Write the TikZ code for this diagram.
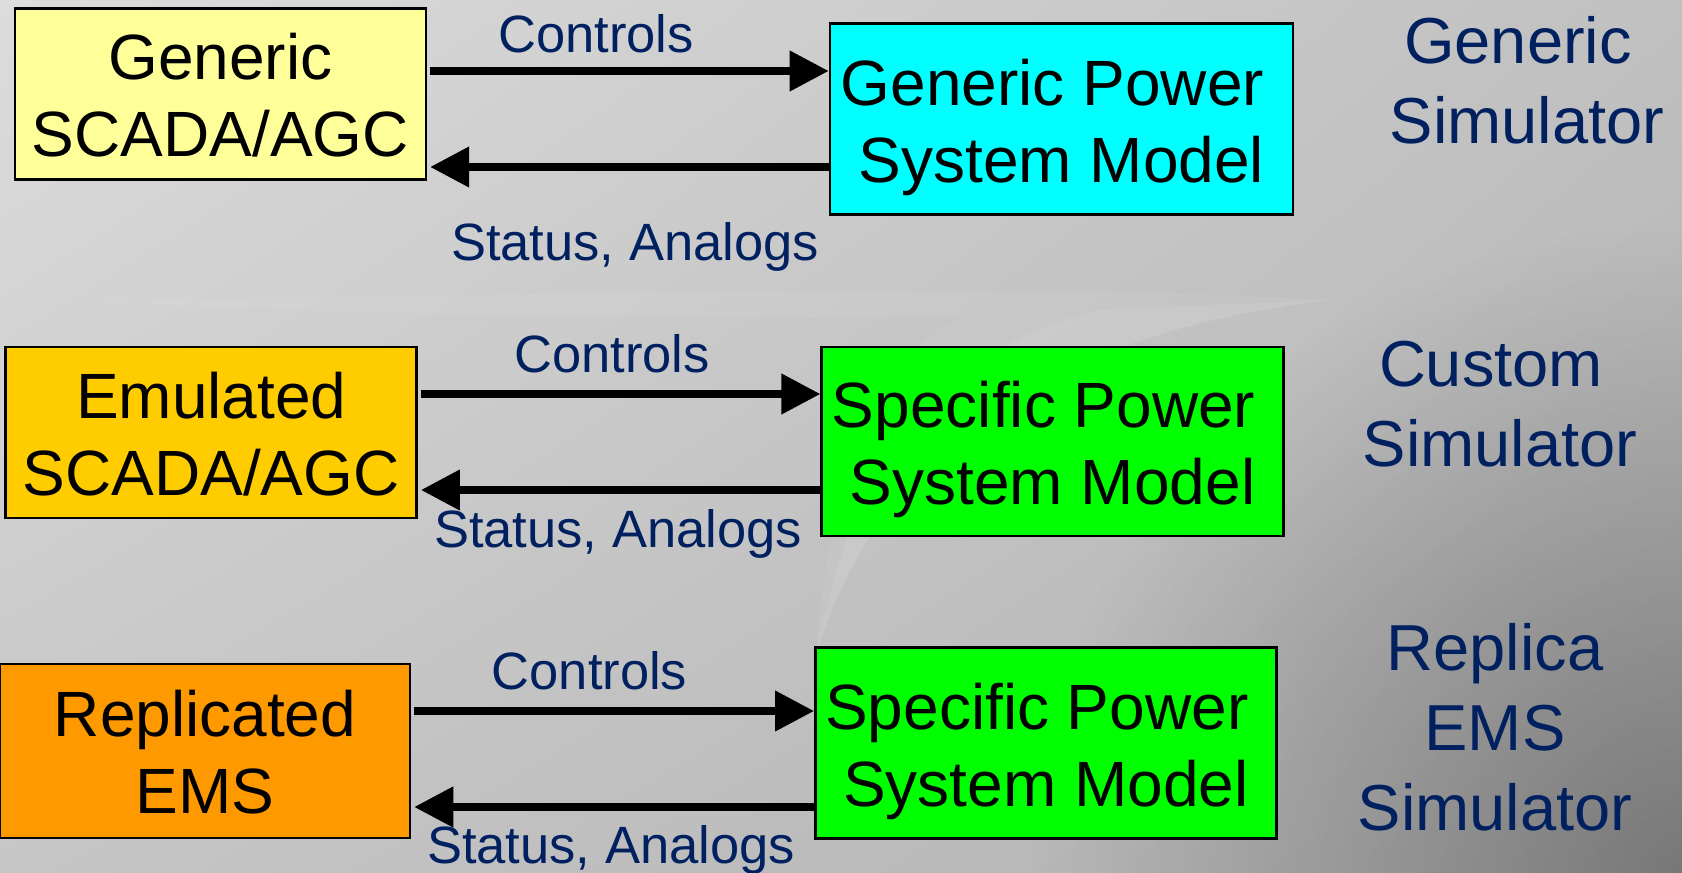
\documentclass[tikz,border=0pt]{standalone}
\usepackage{fontspec}
\setmainfont{Liberation Sans}
\usetikzlibrary{arrows.meta,fadings,shadings}

\definecolor{navy}{RGB}{0,32,96}
\definecolor{byel}{RGB}{255,255,153}
\definecolor{bcyan}{RGB}{0,255,255}
\definecolor{bgold}{RGB}{255,204,0}
\definecolor{borange}{RGB}{255,153,0}
\definecolor{bgreen}{RGB}{0,255,0}
\definecolor{bgTL}{RGB}{220,220,220}
\definecolor{bgTR}{RGB}{192,192,192}
\definecolor{bgBL}{RGB}{198,198,198}
\definecolor{bgBR}{RGB}{176,176,176}

\tikzfading[name=vign, inner color=transparent!68, outer color=transparent!100]

\newcommand{\twolines}[2]{\rule{0pt}{49pt}#1\\\smash{#2}}

\begin{document}
\begin{tikzpicture}[x=1pt,y=-1pt,
  blk/.style={draw=black, line width=2.5pt, inner sep=0pt, align=center,
              font=\fontsize{64}{77}\selectfont},
  arr/.style={line width=7.5pt, -{Triangle[length=39pt,width=39pt]}},
  lbl/.style={text=navy, font=\fontsize{52.5}{63}\selectfont, anchor=base, inner sep=0pt},
  side/.style={text=navy, font=\fontsize{65}{80}\selectfont, align=center,
               anchor=north, inner sep=0pt}]

\useasboundingbox (0,0) rectangle (1682,873);
\clip (0,0) rectangle (1682,873);

% background
\shade[upper left=bgTL, upper right=bgTR, lower left=bgBL, lower right=bgBR]
  (0,0) rectangle (1682,873);
\fill[black, path fading=vign] (1682,873) circle (650);
% faint light swoosh
\fill[white, opacity=0.06]
  (100,300) .. controls (600,292) and (1100,285) .. (1330,300)
  .. controls (1080,330) and (880,430) .. (815,660)
  .. controls (830,480) and (870,360) .. (960,318)
  .. controls (700,318) and (350,318) .. (100,300) -- cycle;
\fill[white, opacity=0.08]
  (1330,300) .. controls (1080,330) and (880,430) .. (815,660)
  .. controls (850,470) and (930,350) .. (1100,310) -- cycle;

% boxes
\node[blk, fill=byel, minimum width=411pt, minimum height=171pt] (g1) at (220.4,93.9)
  {\twolines{Generic}{SCADA/AGC}};
\node[blk, fill=bcyan, minimum width=463pt, minimum height=191pt] (m1) at (1061.4,119)
  {\twolines{Generic Power\kern18pt}{System Model}};

\node[blk, fill=bgold, minimum width=411pt, minimum height=171pt] (e2) at (211.2,432.3)
  {\twolines{Emulated}{SCADA/AGC}};
\node[blk, fill=bgreen, minimum width=462pt, minimum height=189pt] (m2) at (1052.6,441.3)
  {\twolines{Specific Power\kern18pt}{System Model}};

\node[blk, fill=borange, minimum width=410pt, minimum height=174pt] (r3) at (205,750.8)
  {\twolines{Replicated}{EMS}};
\node[blk, fill=bgreen, minimum width=461pt, minimum height=191pt] (m3) at (1045.8,743.2)
  {\twolines{Specific Power\kern18pt}{System Model}};

% arrow levels
\coordinate (a1) at (0,71);
\coordinate (b1) at (0,167);
\coordinate (a2) at (0,394);
\coordinate (b2) at (0,490);
\coordinate (a3) at (0,711);
\coordinate (b3) at (0,807);

\draw[arr] ([xshift=3pt]g1.east |- a1) -- (m1.west |- a1);
\draw[arr] (m1.west |- b1) -- ([xshift=3pt]g1.east |- b1);
\draw[arr] ([xshift=3pt]e2.east |- a2) -- (m2.west |- a2);
\draw[arr] (m2.west |- b2) -- ([xshift=3pt]e2.east |- b2);
\draw[arr] ([xshift=3pt]r3.east |- a3) -- (m3.west |- a3);
\draw[arr] (m3.west |- b3) -- ([xshift=3pt]r3.east |- b3);

% arrow labels
\node[lbl] (c1) at (596,52) {Controls};
\node[lbl] (s1) at (635,260) {Status, Analogs};
\node[lbl] (c2) at (612,372) {Controls};
\node[lbl] (s2) at (618,547) {Status, Analogs};
\node[lbl] (c3) at (589.5,689) {Controls};
\node[lbl] (s3) at (611,863) {Status, Analogs};

% side labels
\node[side] (t1) at (1527,3) {\rule{0pt}{60pt}Generic\kern18pt\\Simulator};
\node[side] (t2) at (1500,326) {\rule{0pt}{60pt}Custom\kern18pt\\Simulator};
\node[side] (t3) at (1495,610) {\rule{0pt}{60pt}Replica\\EMS\\Simulator};

\end{tikzpicture}
\end{document}
